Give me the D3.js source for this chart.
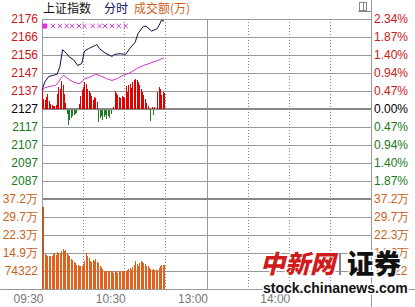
<!DOCTYPE html>
<html>
<head>
<meta charset="utf-8">
<script src="https://cdn.jsdelivr.net/npm/d3@7"></script>
<style>
  html, body { margin: 0; padding: 0; background: #fff; }
  svg { display: block; }
</style>
</head>
<body>
<div id="chart"></div>
<script>
// minutes since 09:30, lunch break folded (240 trading minutes)
const priceMinutes = [0, 2, 5, 8, 11, 13, 15, 18, 20, 23, 26, 29, 31, 34, 39, 40, 42, 46, 51, 53, 57, 61, 64, 68, 70, 74, 76, 80, 84, 86, 87, 89];
const priceValues = [2137.5, 2142.1, 2145.2, 2145.8, 2146.4, 2150.4, 2160.0, 2157.8, 2155.9, 2154.5, 2151.3, 2152.3, 2159.3, 2160.6, 2162.4, 2162.9, 2160.6, 2158.1, 2156.3, 2157.4, 2157.8, 2157.4, 2160.6, 2164.2, 2168.9, 2172.9, 2172.9, 2170.3, 2171.6, 2174.4, 2176.2, 2175.8];

const avgMinutes = [0, 2, 6, 10, 12, 14, 16, 18, 20, 23, 27, 29, 31, 34, 39, 42, 47, 51, 55, 59, 64, 69, 74, 78, 81, 85, 87, 89];
const avgValues = [2137.1, 2139.0, 2139.7, 2140.3, 2142.1, 2144.5, 2145.8, 2144.5, 2143.4, 2142.1, 2141.2, 2142.1, 2144.0, 2144.5, 2146.4, 2145.8, 2144.0, 2143.0, 2144.0, 2145.8, 2147.1, 2149.5, 2151.3, 2152.3, 2153.2, 2154.1, 2155.0, 2155.4];

// buy/sell strength per minute, + red / - green
const powerValues = [18, 10, 9, 12, 15, 8, 5, 4, 3, 3, 4, 15, 22, 20, 28, 24, 15, 6, -4, -15,
  -10, -8, -6, -5, -4, -3, 0, 5, 13, 19, 22, 27, 25, 20, 18, 16, 13, 9, 12, 11,
  7, -12, -8, -6, -10, -7, -5, -9, -6, -8, -4, 0, 2, 18, 16, 14, 12, 11, 13, 12,
  11, 23, 17, 24, 25, 21, 27, 29, 30, 29, 27, 24, 20, 17, 14, 10, 6, 3, 0, -11,
  2, -5, 2, 0, 17, 22, 20, 14, 17, 16];

// volume per minute, in 万
const volumeValues = [33.9, 14.5, 14.3, 14.2, 13.8, 13.5, 13.5, 13.6, 14.8, 14.5, 14.2, 15.3, 14.8, 15.0, 15.8, 16.5, 15.6, 16.2, 15.0, 14.2,
  13.5, 12.4, 11.8, 11.2, 10.7, 9.8, 10.0, 9.4, 9.4, 9.6, 10.5, 11.4, 14.9, 13.8, 12.8, 11.6, 11.0, 12.1, 11.4, 12.4,
  11.2, 10.7, 9.6, 8.9, 8.3, 7.6, 7.3, 7.3, 7.3, 7.3, 7.3, 7.3, 6.6, 7.0, 7.3, 6.6, 7.3, 7.3, 7.3, 7.3,
  7.3, 7.3, 8.0, 8.3, 8.7, 8.0, 9.0, 10.0, 11.4, 10.4, 9.6, 10.7, 11.4, 11.0, 10.7, 10.3, 9.6, 9.4, 8.7, 8.3,
  8.0, 8.3, 8.0, 7.7, 8.0, 8.7, 9.4, 10.0, 10.0, 10.0];

const markerMinutes = [2, 8, 13, 18, 22, 27, 31, 37, 42, 46, 51, 56, 61];

const prevClose = 2127.2;
const pctStep = 0.00468;
const priceLabels = ["2176", "2166", "2156", "2147", "2137", "2127", "2117", "2107", "2097", "2087"];
const pctLabels = ["2.34%", "1.87%", "1.40%", "0.94%", "0.47%", "0.00%", "0.47%", "0.94%", "1.40%", "1.87%"];
const volumeTicks = [37.161, 29.729, 22.297, 14.864, 7.432];
const volumeLabels = ["37.2万", "29.7万", "22.3万", "14.9万", "74322"];
const timeTicks = [0, 30, 60, 90, 120, 150, 180, 210, 240];
const timeLabels = ["09:30", "", "10:30", "", "13:00", "", "14:00", "", ""];

(function () {
  const width = 415, height = 307;
  const plotLeft = 42, plotRight = 371, plotTop = 19, volTop = 199, plotBottom = 289;
  const font = "'Liberation Sans', Arial, sans-serif";
  const cjk = "'Noto Sans CJK SC', sans-serif";
  const red = "#c81818", green = "#1a7a1a", volColor = "#c8621e";

  const x = d3.scaleLinear().domain([0, 240]).range([plotLeft, plotRight]);
  const yPrice = d3.scaleLinear()
    .domain([prevClose * (1 - 5 * pctStep), prevClose * (1 + 5 * pctStep)])
    .range([volTop, plotTop]);
  const y0 = yPrice(prevClose);
  const yPower = d3.scaleLinear().domain([-30, 30]).range([y0 + 30, y0 - 30]);
  const yVol = d3.scaleLinear().domain([0, 37.161]).range([plotBottom, volTop]);

  const priceTicks = d3.range(5, -5, -1).map((k) => prevClose * (1 + k * pctStep));
  const tickColor = (i) => (i < 5 ? red : i === 5 ? "#000" : green);

  const svg = d3.create("svg")
    .attr("width", width)
    .attr("height", height)
    .attr("viewBox", [0, 0, width, height])
    .style("background", "#fff");

  // grid
  const grid = svg.append("g").attr("shape-rendering", "crispEdges");
  grid.selectAll("line.h")
    .data(d3.range(0, 15))
    .join("line")
    .attr("x1", plotLeft).attr("x2", plotRight)
    .attr("y1", (i) => plotTop + i * 18 + 0.5).attr("y2", (i) => plotTop + i * 18 + 0.5)
    .attr("stroke", "#999");
  grid.selectAll("line.v")
    .data(timeTicks.slice(1, -1))
    .join("line")
    .attr("x1", (d) => Math.round(x(d)) + 0.5).attr("x2", (d) => Math.round(x(d)) + 0.5)
    .attr("y1", plotTop).attr("y2", plotBottom)
    .attr("stroke", (d) => (d === 120 ? "#999" : "#888"))
    .attr("stroke-dasharray", (d) => (d === 120 ? null : "1,2"));

  // thick lines at prev close and volume top
  [y0, volTop].forEach((yy) =>
    grid.append("line")
      .attr("x1", plotLeft).attr("x2", plotRight)
      .attr("y1", Math.round(yy)).attr("y2", Math.round(yy))
      .attr("stroke", "#888").attr("stroke-width", 2));

  // frame
  grid.append("line").attr("x1", 0).attr("x2", width).attr("y1", plotBottom + 0.5).attr("y2", plotBottom + 0.5).attr("stroke", "#999");
  grid.append("line").attr("x1", plotLeft + 0.5).attr("x2", plotLeft + 0.5).attr("y1", plotTop).attr("y2", plotBottom).attr("stroke", "#999");
  grid.append("line").attr("x1", plotRight + 0.5).attr("x2", plotRight + 0.5).attr("y1", 0).attr("y2", height).attr("stroke", "#999");

  // power bars
  svg.append("g")
    .attr("shape-rendering", "crispEdges")
    .selectAll("rect")
    .data(powerValues.map((v, i) => ({ m: i, v })).filter((d) => d.v !== 0))
    .join("rect")
    .attr("x", (d) => Math.round(x(d.m)))
    .attr("width", 1)
    .attr("y", (d) => (d.v > 0 ? yPower(d.v) : y0 + 1))
    .attr("height", (d) => Math.abs(yPower(d.v) - y0))
    .attr("fill", (d) => (d.v > 0 ? "#e00000" : "#207a20"));

  // volume bars
  svg.append("g")
    .attr("shape-rendering", "crispEdges")
    .selectAll("rect")
    .data(volumeValues)
    .join("rect")
    .attr("x", (d, i) => Math.round(x(i)))
    .attr("width", (d, i) => (i === 0 ? 2 : 1))
    .attr("y", (d) => yVol(d))
    .attr("height", (d) => plotBottom - yVol(d))
    .attr("fill", (d, i) => (i === 0 ? "#b85a2a" : "#e0601c"));

  // average and price lines
  svg.append("path")
    .attr("d", d3.line().x((d, i) => x(avgMinutes[i])).y((d) => yPrice(d))(avgValues))
    .attr("fill", "none").attr("stroke", "#cc33cc").attr("stroke-width", 1);
  svg.append("path")
    .attr("d", d3.line().x((d, i) => x(priceMinutes[i])).y((d) => yPrice(d))(priceValues))
    .attr("fill", "none").attr("stroke", "#0c0c50").attr("stroke-width", 1);

  // markers row
  svg.append("g")
    .selectAll("path")
    .data(markerMinutes)
    .join("path")
    .attr("transform", (d) => `translate(${x(d)},26)`)
    .attr("d", (d, i) => d3.symbol(i === 0 ? d3.symbolSquare : d3.symbolTimes, i === 0 ? 16 : 14)())
    .attr("fill", (d, i) => (i === 0 ? "#e030e0" : "none"))
    .attr("stroke", "#e030e0")
    .attr("stroke-width", 1);

  // axes
  const styleAxis = (g) => {
    g.select(".domain").remove();
    g.selectAll("text").attr("font-family", font).attr("font-size", 12);
  };
  svg.append("g")
    .attr("transform", `translate(${plotLeft},0)`)
    .call(d3.axisLeft(yPrice).tickValues(priceTicks).tickFormat((d, i) => priceLabels[i]).tickSize(0).tickPadding(4))
    .call(styleAxis)
    .call((g) => g.selectAll("text").attr("fill", (d, i) => tickColor(i)));
  svg.append("g")
    .attr("transform", `translate(${plotRight},0)`)
    .call(d3.axisRight(yPrice).tickValues(priceTicks).tickFormat((d, i) => pctLabels[i]).tickSize(0).tickPadding(3))
    .call(styleAxis)
    .call((g) => g.selectAll("text").attr("fill", (d, i) => tickColor(i)));
  svg.append("g")
    .attr("transform", `translate(${plotLeft},0)`)
    .call(d3.axisLeft(yVol).tickValues(volumeTicks).tickFormat((d, i) => volumeLabels[i]).tickSize(0).tickPadding(4))
    .call(styleAxis)
    .call((g) => g.selectAll("text").attr("fill", volColor));
  svg.append("g")
    .attr("transform", `translate(${plotRight},0)`)
    .call(d3.axisRight(yVol).tickValues(volumeTicks).tickFormat((d, i) => volumeLabels[i]).tickSize(0).tickPadding(3))
    .call(styleAxis)
    .call((g) => g.selectAll("text").attr("fill", volColor));
  svg.append("g")
    .attr("transform", `translate(0,${plotBottom})`)
    .call(d3.axisBottom(x).tickValues(timeTicks).tickFormat((d, i) => timeLabels[i]).tickSize(0))
    .call(styleAxis)
    .call((g) => g.selectAll("text").attr("text-anchor", "end").attr("dy", null).attr("y", 14).attr("x", 1).attr("fill", "#777"));

  // title
  const title = svg.append("text").attr("x", 43).attr("y", 13).attr("font-family", cjk).attr("font-size", 12);
  title.append("tspan").attr("fill", "#111").text("上证指数");
  title.append("tspan").attr("dx", 13).attr("fill", "#101060").text("分时");
  title.append("tspan").attr("dx", 6).attr("fill", volColor).text("成交额(万)");

  // small panel icon
  const icon = svg.append("g").attr("shape-rendering", "crispEdges").attr("fill", "none").attr("stroke", "#888");
  icon.append("rect").attr("x", 359.5).attr("y", 2.5).attr("width", 7).attr("height", 8);
  icon.append("line").attr("x1", 363.5).attr("x2", 363.5).attr("y1", 3).attr("y2", 10);
  icon.append("line").attr("x1", 358).attr("x2", 371).attr("y1", 11.5).attr("y2", 11.5);

  // watermark
  const wm = svg.append("g").attr("paint-order", "stroke").attr("stroke", "#fff").attr("stroke-linejoin", "round");
  wm.append("text").attr("x", 260).attr("y", 273).attr("font-family", cjk).attr("font-size", 25)
    .attr("font-weight", 900).attr("font-style", "italic").attr("fill", "#d01c1c").attr("stroke-width", 3).text("中新网");
  wm.append("line").attr("x1", 340).attr("x2", 340).attr("y1", 253).attr("y2", 275).attr("stroke", "#888").attr("stroke-width", 2);
  wm.append("text").attr("x", 347).attr("y", 274).attr("font-family", cjk).attr("font-size", 27)
    .attr("font-weight", 900).attr("fill", "#111").attr("stroke-width", 3).text("证券");
  wm.append("text").attr("x", 263).attr("y", 293).attr("font-family", font).attr("font-size", 14)
    .attr("font-weight", "bold").attr("fill", "#111").attr("stroke-width", 3).text("stock.chinanews.com");

  document.getElementById("chart").appendChild(svg.node());
})();
</script>
</body>
</html>
